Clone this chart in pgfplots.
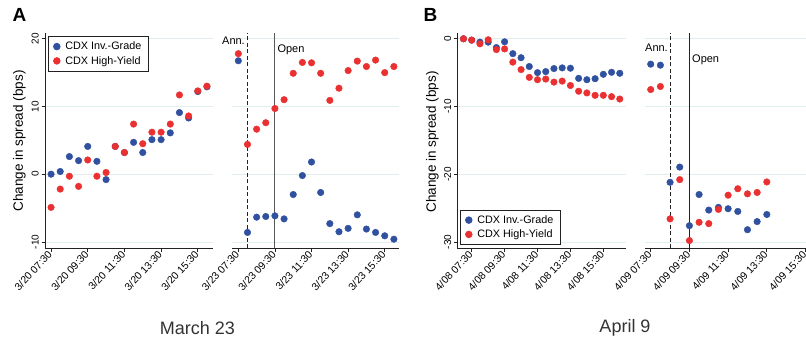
\documentclass[border=0pt]{standalone}
\usepackage{fontspec}
\setmainfont{Liberation Sans}
\usepackage{pgfplots}
\pgfplotsset{compat=1.18}
\definecolor{igblue}{HTML}{3050A0}
\definecolor{hyred}{HTML}{EA3030}
\definecolor{gridc}{HTML}{E0EEF0}
\definecolor{axc}{HTML}{222222}
\pgfplotsset{
  day/.style={
    scale only axis,
    anchor=south west,
    height=215pt,
    axis x line*=bottom,
    axis y line*=left,
    axis line style={-, line width=0.8pt, axc},
    tick align=outside,
    major tick length=3.5pt,
    tick style={line width=0.8pt, axc},
    ymajorgrids,
    grid style={gridc, line width=0.8pt},
    xtick={7.5,9.5,11.5,13.5,15.5},
    xticklabel style={rotate=47, anchor=east, font=\fontsize{10.4}{12}\selectfont, inner sep=1.5pt},
    yticklabel style={rotate=90, anchor=south, font=\fontsize{10}{12}\selectfont, inner sep=2.5pt},
    /pgf/number format/assume math mode=true,
    clip=false,
    legend style={draw=axc, line width=0.8pt, font=\fontsize{10.8}{13}\selectfont,
      inner xsep=1.5pt, inner ysep=3.5pt, row sep=1pt, cells={anchor=west}},
    legend image code/.code={\path (-6.5pt,0pt) (6.1pt,0pt); \draw[mark repeat=1] plot coordinates {(0pt,0pt)};},
  },
  second/.style={
    y axis line style={draw=none},
    ytick style={draw=none},
    yticklabels={},
  },
  ig/.style={only marks, mark=*, mark size=3.3pt, color=igblue, mark options={draw=none, fill=igblue}},
  hy/.style={only marks, mark=*, mark size=3.3pt, color=hyred, mark options={draw=none, fill=hyred}},
  annline/.style={no marks, axc, line width=0.9pt, dash pattern=on 4pt off 2.5pt},
  openline/.style={no marks, black!65, line width=1pt},
}
\begin{document}
\begin{tikzpicture}[x=1pt,y=1pt]
\useasboundingbox (0,0) rectangle (806,341);

% ---------------- Panel A, day 1
\begin{axis}[day, at={(45pt,93pt)}, width=168pt,
  xmin=7.17, xmax=16.33, ymin=-10.9, ymax=20.85,
  ytick={-10,0,10,20}, yticklabels={-10,0,10,20},
  xticklabels={3/20 07:30,3/20 09:30,3/20 11:30,3/20 13:30,3/20 15:30},
  legend style={at={(0.018,0.986)}, anchor=north west}]
\addplot[ig] coordinates {(7.5,0) (8,0.4) (8.5,2.6) (9,2.0) (9.5,4.1) (10,1.9) (10.5,-0.8) (11,4.1) (11.5,3.2) (12,4.7) (12.5,3.2) (13,5.1) (13.5,5.1) (14,6.1) (14.5,9.1) (15,8.3) (15.5,12.2) (16,12.9)};
\addlegendentry{CDX Inv.-Grade\hspace*{3.5pt}}
\addplot[hy] coordinates {(7.5,-4.9) (8,-2.2) (8.5,-0.3) (9,-1.8) (9.5,2.1) (10,-0.3) (10.5,0.25) (11,4.1) (11.5,3.2) (12,7.4) (12.5,4.5) (13,6.2) (13.5,6.2) (14,7.4) (14.5,11.7) (15,8.6) (15.5,12.3) (16,13.0)};
\addlegendentry{CDX High-Yield}
\end{axis}

% ---------------- Panel A, day 2
\begin{axis}[day, second, at={(232.3pt,93pt)}, width=166.7pt,
  xmin=7.17, xmax=16.28, ymin=-10.9, ymax=20.85,
  ytick={-10,0,10,20},
  xticklabels={3/23 07:30,3/23 09:30,3/23 11:30,3/23 13:30,3/23 15:30}]
\addplot[annline] coordinates {(8,-10.9) (8,20.85)};
\addplot[openline] coordinates {(9.5,-10.9) (9.5,20.85)};
\addplot[ig] coordinates {(7.5,16.75) (8,-8.6) (8.5,-6.35) (9,-6.25) (9.5,-6.15) (10,-6.6) (10.5,-3.0) (11,-0.2) (11.5,1.8) (12,-2.7) (12.5,-7.3) (13,-8.5) (13.5,-8.0) (14,-6.0) (14.5,-8.1) (15,-8.6) (15.5,-9.1) (16,-9.6)};
\addplot[hy] coordinates {(7.5,17.8) (8,4.4) (8.5,6.65) (9,7.6) (9.5,9.7) (10,11.0) (10.5,14.9) (11,16.5) (11.5,16.45) (12,14.9) (12.5,10.9) (13,12.7) (13.5,15.3) (14,16.7) (14.5,15.9) (15,16.85) (15.5,15.0) (16,15.9)};
\end{axis}

% ---------------- Panel B, day 1
\begin{axis}[day, at={(457.3pt,93pt)}, width=168.4pt,
  xmin=6.625, xmax=16.86, ymin=-30.9, ymax=0.85,
  ytick={-30,-20,-10,0}, yticklabels={-30,-20,-10,0},
  xticklabels={4/08 07:30,4/08 09:30,4/08 11:30,4/08 13:30,4/08 15:30},
  legend style={at={(0.016,0.014)}, anchor=south west}]
\addplot[ig] coordinates {(7,0) (7.5,-0.2) (8,-0.5) (8.5,-0.5) (9,-1.3) (9.5,-0.45) (10,-2.2) (10.5,-2.8) (11,-4.1) (11.5,-5.0) (12,-4.85) (12.5,-4.4) (13,-4.3) (13.5,-4.35) (14,-5.85) (14.5,-6.05) (15,-5.9) (15.5,-5.25) (16,-4.95) (16.5,-5.1)};
\addlegendentry{CDX Inv.-Grade\hspace*{3.5pt}}
\addplot[hy] coordinates {(7,0) (7.5,-0.2) (8,-0.75) (8.5,-0.15) (9,-1.6) (9.5,-1.5) (10,-3.45) (10.5,-4.55) (11,-5.7) (11.5,-6.05) (12,-5.95) (12.5,-6.4) (13,-6.25) (13.5,-6.9) (14,-7.75) (14.5,-8.0) (15,-8.35) (15.5,-8.35) (16,-8.55) (16.5,-8.9)};
\addlegendentry{CDX High-Yield}
\end{axis}

% ---------------- Panel B, day 2
\begin{axis}[day, second, at={(645pt,93pt)}, width=176pt,
  xmin=7.205, xmax=16.3, ymin=-30.9, ymax=0.85,
  ytick={-30,-20,-10,0},
  xticklabels={4/09 07:30,4/09 09:30,4/09 11:30,4/09 13:30,4/09 15:30}]
\addplot[annline] coordinates {(8.5,-30.9) (8.5,0.85)};
\addplot[openline, axc] coordinates {(9.5,-30.9) (9.5,0.85)};
\addplot[ig] coordinates {(7.5,-3.75) (8,-3.9) (8.5,-21.2) (9,-18.95) (9.5,-27.6) (10,-23.0) (10.5,-25.3) (11,-24.9) (11.5,-25.1) (12,-25.5) (12.5,-28.2) (13,-27.0) (13.5,-25.95)};
\addplot[hy] coordinates {(7.5,-7.5) (8,-7.05) (8.5,-26.6) (9,-20.8) (9.5,-29.8) (10,-27.1) (10.5,-27.3) (11,-25.2) (11.5,-23.1) (12,-22.15) (12.5,-22.9) (13,-22.7) (13.5,-21.15)};
\end{axis}

% ---------------- annotations
\node[font=\fontsize{19}{22}\selectfont\bfseries, inner sep=0pt] at (19.5,326) {A};
\node[font=\fontsize{19}{22}\selectfont\bfseries, inner sep=0pt] at (430.5,326) {B};
\node[font=\fontsize{13.5}{16}\selectfont, rotate=90, inner sep=0pt] at (19.5,200) {Change in spread (bps)};
\node[font=\fontsize{13.5}{16}\selectfont, rotate=90, inner sep=0pt] at (432.5,199) {Change in spread (bps)};
\node[font=\fontsize{11}{13}\selectfont, anchor=east, inner sep=0pt] at (245,300) {Ann.};
\node[font=\fontsize{11}{13}\selectfont, anchor=west, inner sep=0pt] at (277.3,291) {Open};
\node[font=\fontsize{11}{13}\selectfont, anchor=east, inner sep=0pt] at (668,293.7) {Ann.};
\node[font=\fontsize{11}{13}\selectfont, anchor=west, inner sep=0pt] at (692,280.7) {Open};
\node[font=\fontsize{18}{21}\selectfont, text=black!80, inner sep=0pt] at (197.5,13) {March 23};
\node[font=\fontsize{18}{21}\selectfont, text=black!80, inner sep=0pt] at (625,13) {April 9};
\end{tikzpicture}
\end{document}
